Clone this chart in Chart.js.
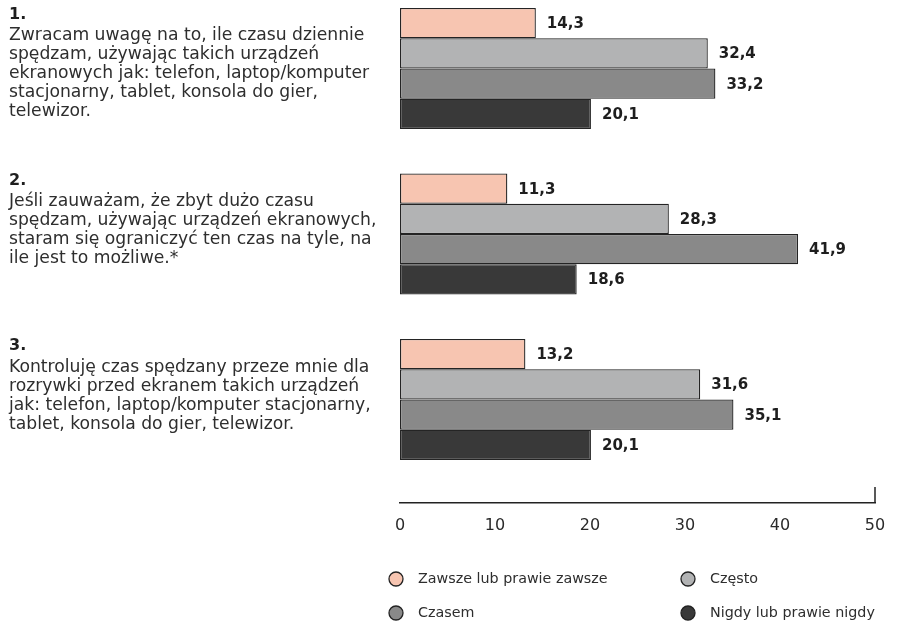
<!DOCTYPE html>
<html>
<head>
<meta charset="utf-8">
<script src="https://cdn.jsdelivr.net/npm/chart.js@4/dist/chart.umd.min.js"></script>
<style>
  html, body { margin: 0; padding: 0; background: #ffffff; }
  #wrap { position: relative; width: 902px; height: 624px; }
</style>
</head>
<body>
<div id="wrap"><canvas id="c" width="902" height="624"></canvas></div>
<script>
const questionNumbers = ['1.', '2.', '3.'];
const questionLines = [
  ['Zwracam uwagę na to, ile czasu dziennie', 'spędzam, używając takich urządzeń', 'ekranowych jak: telefon, laptop/komputer', 'stacjonarny, tablet, konsola do gier,', 'telewizor.'],
  ['Jeśli zauważam, że zbyt dużo czasu', 'spędzam, używając urządzeń ekranowych,', 'staram się ograniczyć ten czas na tyle, na', 'ile jest to możliwe.*'],
  ['Kontroluję czas spędzany przeze mnie dla', 'rozrywki przed ekranem takich urządzeń', 'jak: telefon, laptop/komputer stacjonarny,', 'tablet, konsola do gier, telewizor.']
];
const seriesNames = ['Zawsze lub prawie zawsze', 'Często', 'Czasem', 'Nigdy lub prawie nigdy'];
const zawsze = [14.3, 11.3, 13.2];
const czesto = [32.4, 28.3, 31.6];
const czasem = [33.2, 41.9, 35.1];
const nigdy = [20.1, 18.6, 20.1];
const xTicks = [0, 10, 20, 30, 40, 50];

const seriesValues = [zawsze, czesto, czasem, nigdy];
const colors = ['#F7C5B1', '#B2B3B4', '#898989', '#393939'];
const FONT = '"DejaVu Sans", sans-serif';
const TEXT = '#2e2e2e';

const datasets = seriesNames.map((name, s) => ({
  label: name,
  data: seriesValues[s].map((v, i) => ({ x: v, y: i })),
  backgroundColor: colors[s],
  borderColor: '#242424',
  borderWidth: 1.3,
  borderSkipped: false,
  categoryPercentage: 0.731,
  barPercentage: 1.0
}));

const annotate = {
  id: 'annotate',
  afterDatasetsDraw(chart) {
    const ctx = chart.ctx;
    ctx.save();
    ctx.fillStyle = '#1e1e1e';
    ctx.font = 'bold 15px ' + FONT;
    ctx.textBaseline = 'middle';
    ctx.textAlign = 'left';
    chart.data.datasets.forEach((ds, di) => {
      const meta = chart.getDatasetMeta(di);
      meta.data.forEach((el, i) => {
        const v = ds.data[i].x;
        ctx.fillText(v.toFixed(1).replace('.', ','), el.x + 11, el.y + 1);
      });
    });
    ctx.restore();
  },
  afterDraw(chart) {
    const ctx = chart.ctx;
    const ys = chart.scales.y;
    const xs = chart.scales.x;
    ctx.save();
    // question texts
    ctx.textBaseline = 'middle';
    ctx.textAlign = 'left';
    questionNumbers.forEach((num, i) => {
      const c = ys.getPixelForValue(i);
      ctx.fillStyle = '#1e1e1e';
      ctx.font = 'bold 16px ' + FONT;
      ctx.fillText(num, 9, c - 53.5);
      ctx.fillStyle = TEXT;
      ctx.font = '17.2px ' + FONT;
      questionLines[i].forEach((line, k) => {
        ctx.fillText(line, 9, c - 32.5 + 19 * k);
      });
    });
    // right end tick on axis
    const xr = xs.getPixelForValue(50);
    const yb = chart.chartArea.bottom;
    ctx.strokeStyle = '#222';
    ctx.lineWidth = 1.5;
    ctx.beginPath();
    ctx.moveTo(xr, yb);
    ctx.lineTo(xr, yb - 16);
    ctx.stroke();
    // legend
    const pos = [[396, 579], [688, 579], [396, 613], [688, 613]];
    ctx.font = '14.3px ' + FONT;
    chart.data.datasets.forEach((ds, i) => {
      const [cx, cy] = pos[i];
      ctx.beginPath();
      ctx.arc(cx, cy, 7, 0, Math.PI * 2);
      ctx.fillStyle = ds.backgroundColor;
      ctx.fill();
      ctx.strokeStyle = '#222';
      ctx.lineWidth = 1.3;
      ctx.stroke();
      ctx.fillStyle = TEXT;
      ctx.fillText(ds.label, cx + 22, cy);
    });
    ctx.restore();
  }
};

new Chart(document.getElementById('c'), {
  type: 'bar',
  data: { datasets },
  plugins: [annotate],
  options: {
    indexAxis: 'y',
    responsive: false,
    animation: false,
    layout: { padding: { left: 400, right: 27, top: 0, bottom: 81 } },
    plugins: { legend: { display: false }, tooltip: { enabled: false } },
    scales: {
      y: {
        type: 'linear',
        reverse: true,
        display: false,
        offset: false,
        min: -0.414,
        max: 2.625,
        afterBuildTicks(scale) { scale.ticks = [0, 1, 2].map(v => ({ value: v })); }
      },
      x: {
        type: 'linear',
        position: 'bottom',
        min: 0,
        max: 50,
        afterBuildTicks(scale) { scale.ticks = xTicks.map(v => ({ value: v })); },
        afterFit(scale) { scale.height = 40; },
        grid: { display: false, drawTicks: false },
        border: { display: true, color: '#222', width: 1.5 },
        ticks: {
          color: '#2a2a2a',
          font: { family: FONT, size: 16 },
          padding: 13,
          callback: v => String(v)
        }
      }
    }
  }
});
</script>
</body>
</html>
